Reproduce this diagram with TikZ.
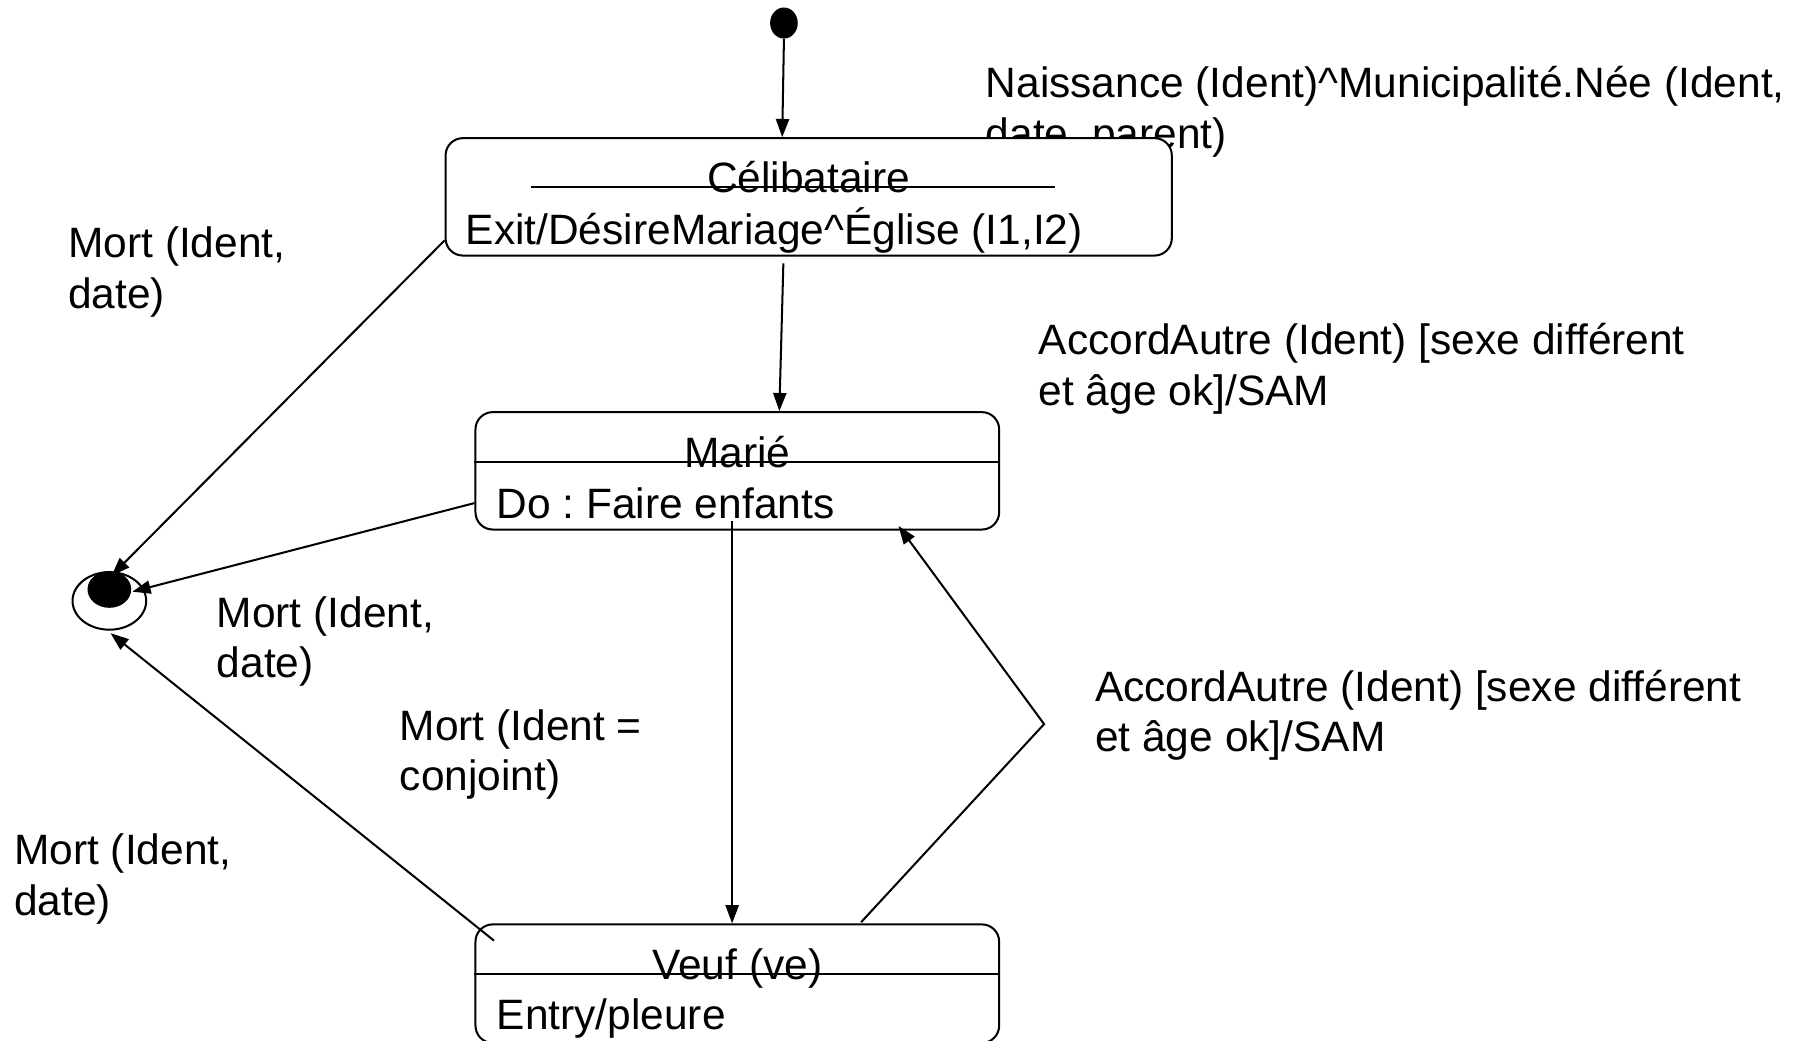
\documentclass[tikz,border=0pt]{standalone}
\usepackage{fontspec}
\setmainfont{Liberation Sans}
\usetikzlibrary{arrows.meta,shapes.geometric,calc}
\frenchspacing
\newcommand{\twolines}[2]{\begin{tabular}[t]{@{}l@{}}#1\\#2\end{tabular}}
\begin{document}
\begin{tikzpicture}[x=0.02cm,y=-0.02cm,
  every node/.style={font=\fontsize{21}{25}\selectfont},
  state/.style={draw,fill=white,rounded corners=0.3cm,line width=1pt,inner sep=0},
  lbl/.style={anchor=base west,inner sep=0},
  txt/.style={anchor=base,inner sep=0},
  txtl/.style={anchor=base west,inner sep=0},
  conn/.style={line width=1pt,-{Triangle[length=9pt,width=6.5pt]}},
  ln/.style={line width=1pt}]
\clip (0,0) rectangle (1568,904);
\fill[white] (0,0) rectangle (1568,904);

% label partly hidden by the box
\node[lbl] (naiss) at (856,85) {\twolines{Naissance (Ident)\textasciicircum Municipalité.Née (Ident,}{date, parent)}};

% states
\node[state,minimum width=12.62cm,minimum height=2.04cm] (cel) at (702.5,171) {};
\draw[ln] ($(cel.north west)+(75,43)$) -- ($(cel.north east)+(-102,43)$);
\node[txt] (celname) at ($(cel.north)+(0,48)$) {Célibataire};
\node[txtl] (celexit) at ($(cel.north west)+(18,93)$) {Exit/DésireMariage\textasciicircum Église (I1,I2)};

\node[state,minimum width=9.1cm,minimum height=2.04cm] (marie) at (640.5,409) {};
\draw[ln] ($(marie.north west)+(0,44)$) -- ($(marie.north east)+(0,44)$);
\node[txt] (mariename) at ($(marie.north)+(0,49)$) {Marié};
\node[txtl] (mariedo) at ($(marie.north west)+(19,93)$) {Do : Faire enfants};

\node[state,minimum width=9.1cm,minimum height=2.06cm] (veuf) at (640.5,854.5) {};
\draw[ln] ($(veuf.north west)+(0,44)$) -- ($(veuf.north east)+(0,44)$);
\node[txt] (veufname) at ($(veuf.north)+(0,49)$) {Veuf (ve)};
\node[txtl] (veufentry) at ($(veuf.north west)+(19,92)$) {Entry/pleure};

% pseudo states
\node[ellipse,fill=black,minimum width=0.48cm,minimum height=0.54cm,inner sep=0] (init) at (681,20) {};
\node[ellipse,draw,line width=1pt,minimum width=1.28cm,minimum height=1cm,inner sep=0] (final) at (95,522) {};
\node[ellipse,fill=black,minimum width=0.76cm,minimum height=0.64cm,inner sep=0] (finaldot) at (95,512) {};

% connectors
\draw[conn] (init.south) -- ($(cel.north)+(-23,0)$);
\draw[conn] ($(cel.south)+(-22,6)$) -- ($(marie.north)+(36.5,0)$);
\draw[conn] ($(cel.south west)+(0,-14)$) -- ($(final.center)+(2,-22)$);
\draw[conn] ($(marie.west)+(0,28)$) -- ($(final.center)+(20,-8)$);
\draw[conn] ($(veuf.north west)+(17,15)$) -- ($(final.center)+(1,28)$);
\draw[conn] ($(marie.south)+(-4.5,-8)$) -- ($(veuf.north)+(-4.5,0)$);
\coordinate (bend) at (907,629);
\draw[conn] ($(veuf.north)+(107.5,-1)$) -- (bend) -- ($(marie.south)+(140,-4)$);

% labels
\node[lbl] (mort1) at (59,224) {\twolines{Mort (Ident,}{date)}};
\node[lbl] (accord1) at (902,308) {\twolines{AccordAutre (Ident) [sexe différent}{et âge ok]/SAM}};
\node[lbl] (mort2) at (188,545) {\twolines{Mort (Ident,}{date)}};
\node[lbl] (accord2) at (951,609) {\twolines{AccordAutre (Ident) [sexe différent}{et âge ok]/SAM}};
\node[lbl] (mort3) at (347,643) {\twolines{Mort (Ident =}{conjoint)}};
\node[lbl] (mort4) at (12,751) {\twolines{Mort (Ident,}{date)}};
\end{tikzpicture}
\end{document}
